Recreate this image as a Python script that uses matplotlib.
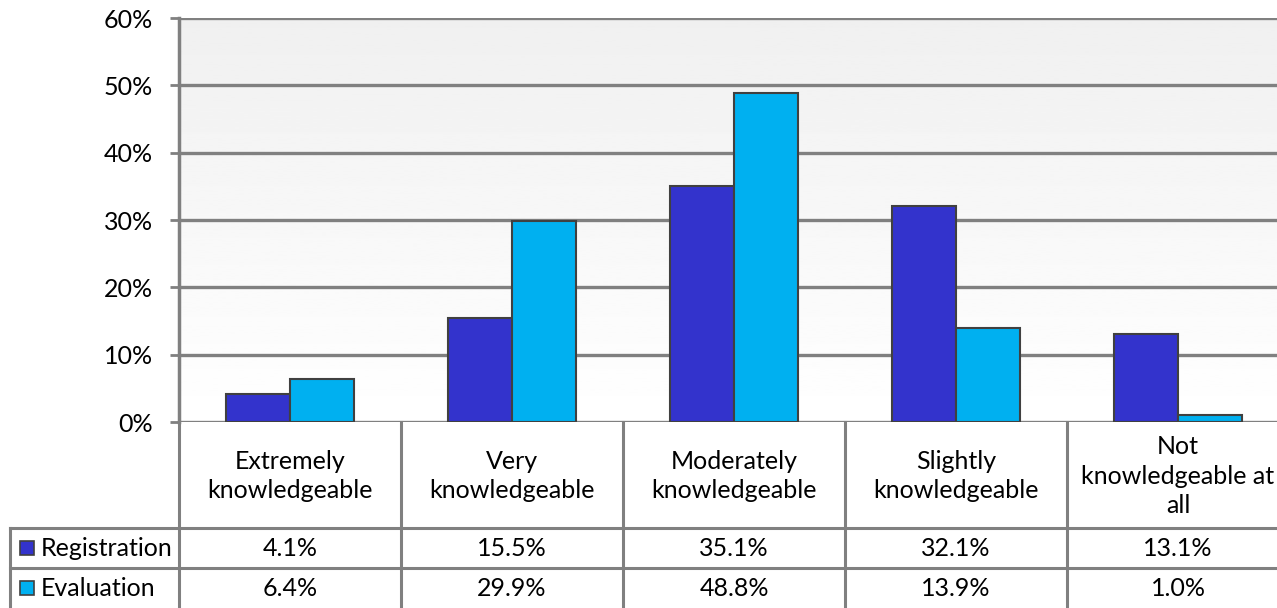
import matplotlib

matplotlib.use("Agg")
import matplotlib.pyplot as plt
import numpy as np
from matplotlib.patches import Rectangle
from matplotlib.transforms import blended_transform_factory


CATEGORIES = [
    "Extremely\nknowledgeable",
    "Very\nknowledgeable",
    "Moderately\nknowledgeable",
    "Slightly\nknowledgeable",
    "Not\nknowledgeable at\nall",
]
SERIES_NAMES = ["Registration", "Evaluation"]
REGISTRATION = [4.1, 15.5, 35.1, 32.1, 13.1]
EVALUATION = [6.4, 29.9, 48.8, 13.9, 1.0]
Y_TICKS = [0, 10, 20, 30, 40, 50, 60]

COLORS = ["#3333CC", "#00B0F0"]
EDGE = "#404040"
GRID = "#808080"
FONT = "Lato"
FS = 18

W, H = 1277, 608
# pixel layout of the plot area / table (right side runs past the canvas)
PLOT_L, PLOT_R, PLOT_TOP, PLOT_BOT = 179, 1289, 18, 422
ROW1, ROW2 = 528, 568
LEGEND_L = 10

plt.rcParams["font.family"] = [FONT, "DejaVu Sans"]

fig = plt.figure(figsize=(W / 100, H / 100), dpi=100)
ax = fig.add_axes([PLOT_L / W, (H - PLOT_BOT) / H, (PLOT_R - PLOT_L) / W, (PLOT_BOT - PLOT_TOP) / H])

n = len(CATEGORIES)
x = np.arange(n)
bar_w = 0.29

ax.set_xlim(-0.5, n - 0.5)
ax.set_ylim(0, 60)

# light gray gradient behind the bars
grad = np.linspace(1.0, 0.94, 256).reshape(-1, 1)
ax.imshow(grad, cmap="gray", vmin=0, vmax=1, aspect="auto",
          extent=(-0.5, n - 0.5, 0, 60), origin="lower", zorder=0)

for t in Y_TICKS:
    ax.axhline(t, color=GRID, linewidth=2.4, zorder=1)

for i, (vals, color) in enumerate(zip([REGISTRATION, EVALUATION], COLORS)):
    ax.bar(x + (i - 0.5) * bar_w, vals, width=bar_w, color=color,
           edgecolor=EDGE, linewidth=1.5, zorder=3)

ax.set_xticks([])
ax.set_yticks(Y_TICKS)
ax.set_yticklabels([f"{t}%" for t in Y_TICKS], fontsize=FS)
ax.tick_params(axis="y", length=6.5, width=2, color=GRID, pad=12)
for side in ("top", "right", "bottom"):
    ax.spines[side].set_visible(False)
ax.spines["left"].set_color(GRID)
ax.spines["left"].set_linewidth(2.5)

# data table under the plot: x in data units, y in figure pixels
px = lambda p: 1 - p / H
trans = blended_transform_factory(ax.transData, fig.transFigure)
line_kw = dict(color=GRID, linewidth=2.2, clip_on=False)

for b in np.arange(0.5, n - 0.5, 1.0):
    ax.plot([b, b], [px(PLOT_BOT), px(H)], transform=trans, **line_kw)

for xi, label in zip(x, CATEGORIES):
    ax.text(xi, px((PLOT_BOT + ROW1) / 2 + 1), label, transform=trans, ha="center",
            va="center", fontsize=FS, linespacing=1.32, clip_on=False)
    for row_top, vals in zip([ROW1, ROW2], [REGISTRATION, EVALUATION]):
        ax.text(xi, px(row_top + 20), f"{vals[xi]:.1f}%", transform=trans,
                ha="center", va="center", fontsize=FS, clip_on=False)

# row lines across the legend column and the table
fig_line = dict(color=GRID, linewidth=2.2, transform=fig.transFigure)
for yy in (ROW1, ROW2):
    fig.add_artist(plt.Line2D([LEGEND_L / W, 1], [px(yy), px(yy)], **fig_line))
fig.add_artist(plt.Line2D([LEGEND_L / W, LEGEND_L / W], [px(ROW1), px(H)], **fig_line))
fig.add_artist(plt.Line2D([PLOT_L / W, PLOT_L / W], [px(PLOT_BOT), px(H)], **fig_line))

# legend keys inside the first column
for row_top, name, color in zip([ROW1, ROW2], SERIES_NAMES, COLORS):
    yc = row_top + 20
    fig.add_artist(Rectangle((20 / W, px(yc + 7)), 14 / W, 14 / H, transform=fig.transFigure,
                             facecolor=color, edgecolor=EDGE, linewidth=1.2))
    fig.text(41 / W, px(yc), name, ha="left", va="center", fontsize=FS)

fig.savefig("out.png", dpi=100, facecolor="white")
